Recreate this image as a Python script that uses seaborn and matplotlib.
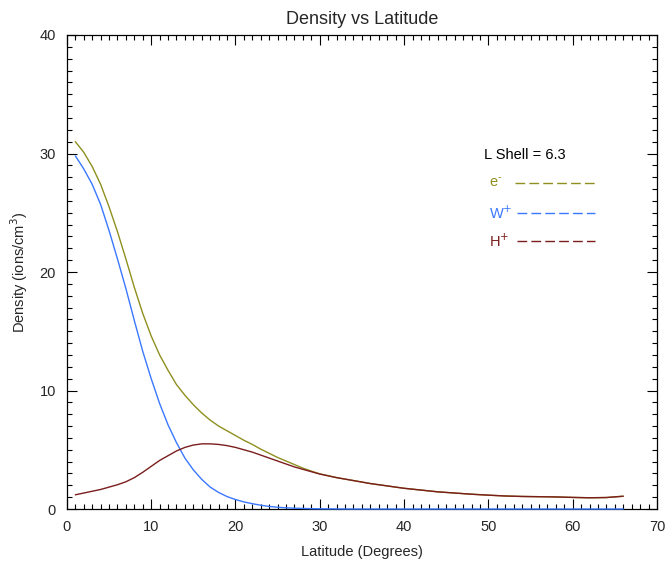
import numpy as np
import pandas as pd
import matplotlib
matplotlib.use("Agg")
import matplotlib.pyplot as plt
import seaborn as sns
from matplotlib.ticker import MultipleLocator

# ---- data ----
lat = [1, 2, 3, 4, 5, 6, 7, 8, 9, 10, 11, 12, 13, 14, 15, 16, 17, 18, 19, 20,
       21, 22, 23, 24, 25, 26, 27, 28, 29, 30, 32, 34, 36, 38, 40, 42, 44, 46,
       48, 50, 52, 54, 56, 58, 60, 62, 64, 66]
electrons = [31.0, 30.1, 28.9, 27.4, 25.5, 23.4, 21.1, 18.7, 16.5, 14.6, 13.0,
             11.7, 10.5, 9.6, 8.8, 8.1, 7.5, 7.0, 6.6, 6.2, 5.8, 5.45, 5.05,
             4.7, 4.35, 4.05, 3.75, 3.45, 3.2, 2.97, 2.65, 2.4, 2.15, 1.95,
             1.75, 1.6, 1.45, 1.35, 1.25, 1.17, 1.1, 1.06, 1.04, 1.02, 0.98,
             0.95, 0.97, 1.08]
w_ions = [29.8, 28.7, 27.4, 25.7, 23.5, 21.1, 18.6, 15.9, 13.3, 11.0, 8.9, 7.1,
          5.6, 4.3, 3.3, 2.5, 1.85, 1.4, 1.05, 0.8, 0.6, 0.45, 0.32, 0.22,
          0.15, 0.1, 0.07, 0.05, 0.03, 0.02, 0.01, 0.0, 0.0, 0.0, 0.0, 0.0,
          0.0, 0.0, 0.0, 0.0, 0.0, 0.0, 0.0, 0.0, 0.0, 0.0, 0.0, 0.0]
h_ions = [1.2, 1.35, 1.5, 1.65, 1.85, 2.05, 2.3, 2.65, 3.1, 3.6, 4.1, 4.5, 4.9,
          5.2, 5.4, 5.5, 5.5, 5.45, 5.35, 5.2, 5.0, 4.8, 4.55, 4.3, 4.05, 3.8,
          3.55, 3.35, 3.15, 2.95, 2.65, 2.4, 2.15, 1.95, 1.75, 1.6, 1.45,
          1.35, 1.25, 1.17, 1.1, 1.06, 1.04, 1.02, 0.98, 0.95, 0.97, 1.08]
series_labels = ["e$^{\\text{-}}$", "W$^{+}$", "H$^{+}$"]
series_colors = ["#8f8f1f", "#3a78ff", "#7b1d1d"]
legend_title = "L Shell = 6.3"

df = pd.DataFrame({"lat": lat * 3,
                   "density": electrons + w_ions + h_ions,
                   "species": [series_labels[0]] * len(lat)
                   + [series_labels[1]] * len(lat)
                   + [series_labels[2]] * len(lat)})

sns.set_style("white")
plt.rcParams["font.family"] = ["Liberation Sans", "DejaVu Sans"]

fig = plt.figure(figsize=(6.69, 5.69), dpi=100)
ax = fig.add_axes([0.1, 0.1054, 0.882, 0.8331])

sns.lineplot(data=df, x="lat", y="density", hue="species",
             hue_order=series_labels, palette=series_colors,
             linewidth=1.0, ax=ax, legend=False, clip_on=False, zorder=3)

ax.set_xlim(0, 70)
ax.set_ylim(0, 40)
ax.xaxis.set_major_locator(MultipleLocator(10))
ax.xaxis.set_minor_locator(MultipleLocator(1))
ax.yaxis.set_major_locator(MultipleLocator(10))
ax.yaxis.set_minor_locator(MultipleLocator(1))
ax.tick_params(which="both", direction="in", top=True, right=True,
               bottom=True, left=True, color="black", width=0.8)
ax.tick_params(which="major", length=7, labelsize=10.5, pad=8)
ax.tick_params(which="minor", length=3.5)
for s in ax.spines.values():
    s.set_color("black")
    s.set_linewidth(0.9)

ax.set_title("Density vs Latitude", fontsize=13, pad=8)
ax.set_xlabel("Latitude (Degrees)", fontsize=10.5, labelpad=8)
ax.set_ylabel("Density (ions/cm$^3$)", fontsize=10.5, labelpad=7)

# ---- in-plot key: label on the left, dashed sample on the right ----
ax.text(0.7068, 0.7468, legend_title, transform=ax.transAxes,
        fontsize=10.5, ha="left", va="center", color="black")
key_y = [0.6878, 0.6245, 0.5654]
key_x0 = [0.7593, 0.7627, 0.7627]
for lab, col, yy, x0 in zip(series_labels, series_colors, key_y, key_x0):
    ax.text(0.7153, yy, lab, transform=ax.transAxes, fontsize=10.5,
            ha="left", va="center", color=col)
    ax.plot([x0, 0.8949], [yy, yy], transform=ax.transAxes, color=col,
            lw=1.0, linestyle=(0, (7, 3)))

fig.savefig("out.png", dpi=100)
